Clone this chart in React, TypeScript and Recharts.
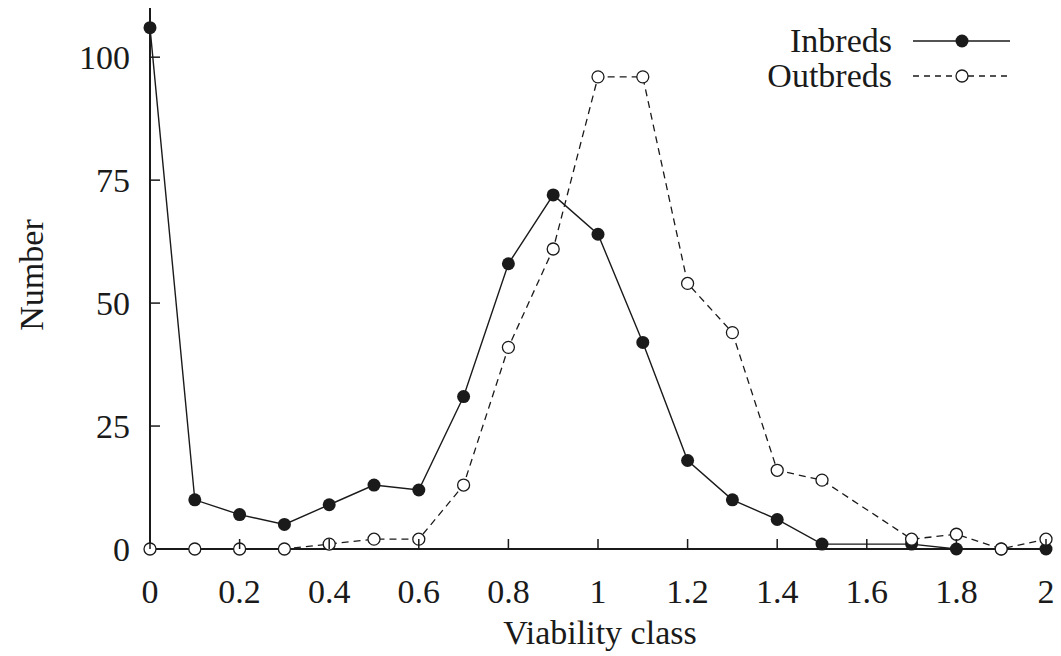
import { LineChart, Line, XAxis, YAxis } from 'recharts'

const viabilityClass = [0, 0.1, 0.2, 0.3, 0.4, 0.5, 0.6, 0.7, 0.8, 0.9, 1.0, 1.1, 1.2, 1.3, 1.4, 1.5, 1.7, 1.8, 1.9, 2.0];
const inbreds = [106, 10, 7, 5, 9, 13, 12, 31, 58, 72, 64, 42, 18, 10, 6, 1, 1, 0, 0, 0];
const outbreds = [0, 0, 0, 0, 1, 2, 2, 13, 41, 61, 96, 96, 54, 44, 16, 14, 2, 3, 0, 2];

const xTicks = [0, 0.2, 0.4, 0.6, 0.8, 1, 1.2, 1.4, 1.6, 1.8, 2];
const yTicks = [0, 25, 50, 75, 100];

const seriesNames = ['Inbreds', 'Outbreds'];

const data = viabilityClass.map((v, i) => ({ v, inbreds: inbreds[i], outbreds: outbreds[i] }));

const FONT = '"Liberation Serif", "DejaVu Serif", serif';
const INK = '#1a1a1a';
const X_MARGIN = 30;
const Y_MARGIN = 20;
const TICK_LEN = 10;

function FilledDot(props: any) {
  const { cx, cy } = props;
  if (cx == null || cy == null) return null;
  return <circle cx={cx} cy={cy} r={6.5} fill={INK} stroke="none" />;
}

function OpenDot(props: any) {
  const { cx, cy } = props;
  if (cx == null || cy == null) return null;
  return <circle cx={cx} cy={cy} r={6} fill="white" stroke={INK} strokeWidth={1.3} />;
}

// ticks point inward, so draw line + label ourselves
function XTick(props: any) {
  const { x, y, payload } = props;
  const axisY = y - X_MARGIN;
  const label = String(Math.round(payload.value * 10) / 10);
  return (
    <g>
      <line x1={x} x2={x} y1={axisY} y2={axisY - TICK_LEN} stroke={INK} strokeWidth={1.5} />
      <text x={x} y={y} dy="0.71em" textAnchor="middle" fontFamily={FONT} fontSize={34} fill={INK}>
        {label}
      </text>
    </g>
  );
}

function YTick(props: any) {
  const { x, y, payload } = props;
  const axisX = x + Y_MARGIN;
  return (
    <g>
      {payload.value !== 0 && (
        <line x1={axisX} x2={axisX + TICK_LEN} y1={y} y2={y} stroke={INK} strokeWidth={1.5} />
      )}
      <text x={x} y={y} dy="0.355em" textAnchor="end" fontFamily={FONT} fontSize={34} fill={INK}>
        {payload.value}
      </text>
    </g>
  );
}

// legend drawn as an overlay so it doesn't steal plot space
function ChartLegend() {
  return (
    <svg width={360} height={80} style={{ position: 'absolute', left: 700, top: 20 }}>
      {seriesNames.map((name, i) => {
        const y = 21 + i * 35;
        const filled = i === 0;
        return (
          <g key={name}>
            <text x={192} y={y + 11} textAnchor="end" fontFamily={FONT} fontSize={34} fill={INK}>
              {name}
            </text>
            <line x1={213} x2={310} y1={y} y2={y} stroke={INK} strokeWidth={1.3} strokeDasharray={filled ? undefined : '6 5'} />
            {filled ? (
              <circle cx={262} cy={y} r={6.5} fill={INK} />
            ) : (
              <circle cx={262} cy={y} r={6} fill="white" stroke={INK} strokeWidth={1.3} />
            )}
          </g>
        );
      })}
    </svg>
  );
}

export default function App() {
  return (
    <div style={{ position: 'absolute', left: 0, top: 0, width: 1061, height: 656, background: '#fff' }}>
      <LineChart width={1061} height={656} data={data} margin={{ top: 8, right: 15, bottom: 0, left: 0 }}>
        <XAxis
          dataKey="v"
          type="number"
          domain={[0, 2]}
          ticks={xTicks}
          height={107}
          tickSize={0}
          tickMargin={X_MARGIN}
          axisLine={{ stroke: INK, strokeWidth: 2 }}
          tickLine={false}
          tick={<XTick />}
          interval={0}
          label={{
            content: () => (
              <text x={600} y={644} textAnchor="middle" fontFamily={FONT} fontSize={34} fill={INK}>
                Viability class
              </text>
            ),
          }}
        />
        <YAxis
          type="number"
          domain={[0, 110]}
          ticks={yTicks}
          width={150}
          tickSize={0}
          tickMargin={Y_MARGIN}
          axisLine={{ stroke: INK, strokeWidth: 2 }}
          tickLine={false}
          tick={<YTick />}
          interval={0}
          label={{
            content: () => (
              <text
                x={43}
                y={275}
                transform="rotate(-90 43 275)"
                textAnchor="middle"
                fontFamily={FONT}
                fontSize={34}
                fill={INK}
              >
                Number
              </text>
            ),
          }}
        />
        <Line
          dataKey="inbreds"
          name="Inbreds"
          stroke={INK}
          strokeWidth={1.4}
          dot={<FilledDot />}
          activeDot={false}
          isAnimationActive={false}
        />
        <Line
          dataKey="outbreds"
          name="Outbreds"
          stroke={INK}
          strokeWidth={1.3}
          strokeDasharray="7 5"
          dot={<OpenDot />}
          activeDot={false}
          isAnimationActive={false}
        />
      </LineChart>
      <ChartLegend />
    </div>
  );
}
